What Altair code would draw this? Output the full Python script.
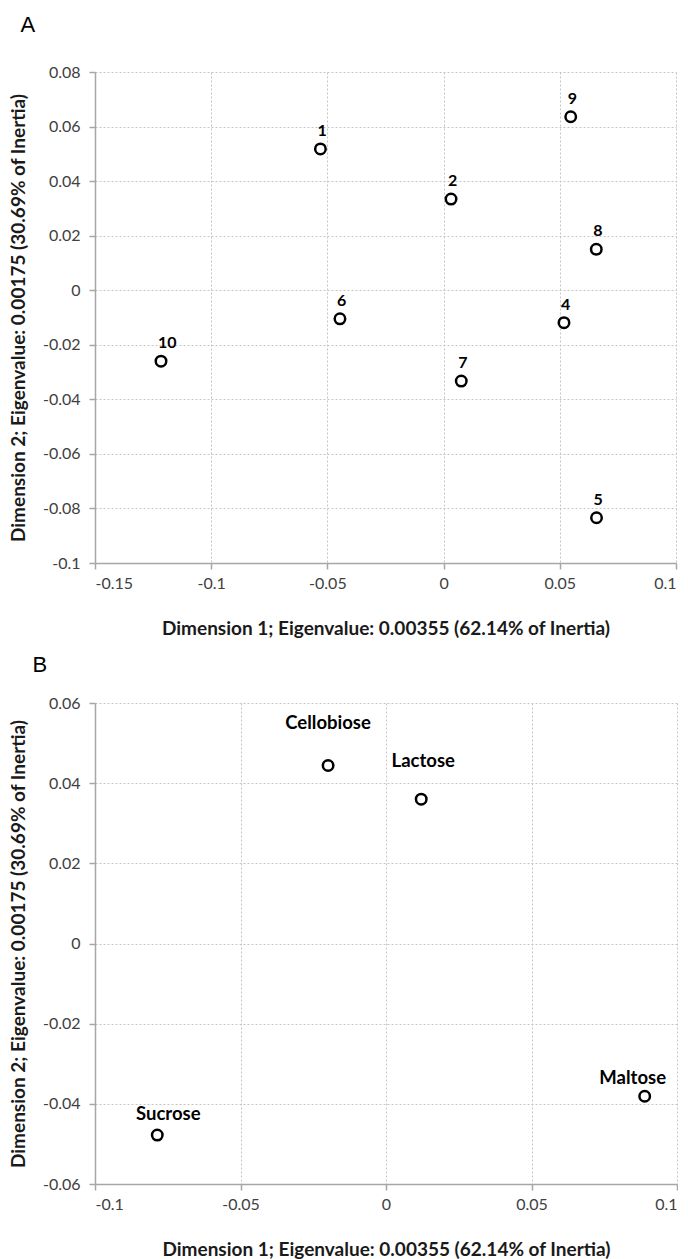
import altair as alt
import pandas as pd

# Panel A: samples
a_labels = ["1", "2", "4", "5", "6", "7", "8", "9", "10"]
a_x = [-0.053, 0.0032, 0.0518, 0.0658, -0.0446, 0.0076, 0.0657, 0.0547, -0.1216]
a_y = [0.0518, 0.0334, -0.0119, -0.0834, -0.0105, -0.0333, 0.015, 0.0636, -0.026]

# Panel B: sugars
b_labels = ["Cellobiose", "Lactose", "Maltose", "Sucrose"]
b_x = [-0.0199, 0.0121, 0.0889, -0.0786]
b_y = [0.0444, 0.036, -0.0381, -0.0478]

a_xticks = [-0.15, -0.1, -0.05, 0, 0.05, 0.1]
a_yticks = [-0.1, -0.08, -0.06, -0.04, -0.02, 0, 0.02, 0.04, 0.06, 0.08]
b_xticks = [-0.1, -0.05, 0, 0.05, 0.1]
b_yticks = [-0.06, -0.04, -0.02, 0, 0.02, 0.04, 0.06]

x_title = "Dimension 1; Eigenvalue: 0.00355 (62.14% of Inertia)"
y_title = "Dimension 2; Eigenvalue: 0.00175 (30.69% of Inertia)"

df_a = pd.DataFrame({"label": a_labels, "x": a_x, "y": a_y})
df_b = pd.DataFrame({"label": b_labels, "x": b_x, "y": b_y})

LBL = "'' + datum.value"


def enc(xdom, ydom, xticks, yticks):
    return dict(
        x=alt.X("x:Q", scale=alt.Scale(domain=xdom, nice=False, zero=False),
                axis=alt.Axis(values=xticks, title=x_title, labelExpr=LBL)),
        y=alt.Y("y:Q", scale=alt.Scale(domain=ydom, nice=False, zero=False),
                axis=alt.Axis(values=yticks, title=y_title, labelExpr=LBL)),
    )


def points(df, e):
    return alt.Chart(df).mark_point(shape="circle", filled=False, size=110,
                                    strokeWidth=2.5, color="#000000", opacity=1).encode(**e)


ea = enc([-0.15, 0.1], [-0.1, 0.08], a_xticks, a_yticks)
text_a = alt.Chart(df_a).mark_text(font="Lato", fontSize=16, fontWeight="bold",
                                   align="left", baseline="middle", dx=-3, dy=-18,
                                   color="#000000").encode(text="label:N", **ea)
chart_a = alt.layer(points(df_a, ea), text_a).properties(
    width=581, height=491,
    title=alt.TitleParams("A", anchor="start", frame="bounds", font="Liberation Sans",
                          fontSize=22, fontWeight="normal", color="#000000",
                          baseline="alphabetic", dx=11, offset=10),
)

eb = enc([-0.1, 0.1], [-0.06, 0.06], b_xticks, b_yticks)
b_offsets = {"Cellobiose": (0, -43), "Lactose": (2, -38), "Maltose": (-12, -18), "Sucrose": (11, -21)}
b_layers = [points(df_b, eb)]
for name, (ddx, ddy) in b_offsets.items():
    b_layers.append(
        alt.Chart(df_b).transform_filter(alt.datum.label == name).mark_text(
            font="Lato", fontSize=18.5, fontWeight="bold", align="center",
            baseline="middle", dx=ddx, dy=ddy, color="#000000"
        ).encode(text="label:N", **eb)
    )
chart_b = alt.layer(*b_layers).properties(
    width=582, height=481,
    title=alt.TitleParams("B", anchor="start", frame="bounds", font="Liberation Sans",
                          fontSize=22, fontWeight="normal", color="#000000",
                          baseline="alphabetic", dx=23, offset=1),
)

chart = alt.vconcat(chart_a, chart_b, spacing=16).properties(
    padding={"left": 9, "top": 14, "right": 0, "bottom": 0},
    background="#ffffff",
).configure_axis(
    grid=True, gridColor="#c4c4c4", gridDash=[2, 2], gridWidth=1,
    domainColor="#a6a6a6", domainWidth=1.5, tickColor="#a6a6a6", tickSize=6, tickWidth=1.5,
    labelFont="Lato", labelFontSize=16, labelColor="#404040",
    titleFont="Lato", titleFontSize=19, titleFontWeight="bold", titleColor="#1a1a1a",
).configure_axisX(labelPadding=6, titlePadding=28).configure_axisY(
    labelPadding=9, titlePadding=14
).configure_view(stroke=None)

chart.save("out.html", embed_options={"renderer": "svg", "actions": False})
